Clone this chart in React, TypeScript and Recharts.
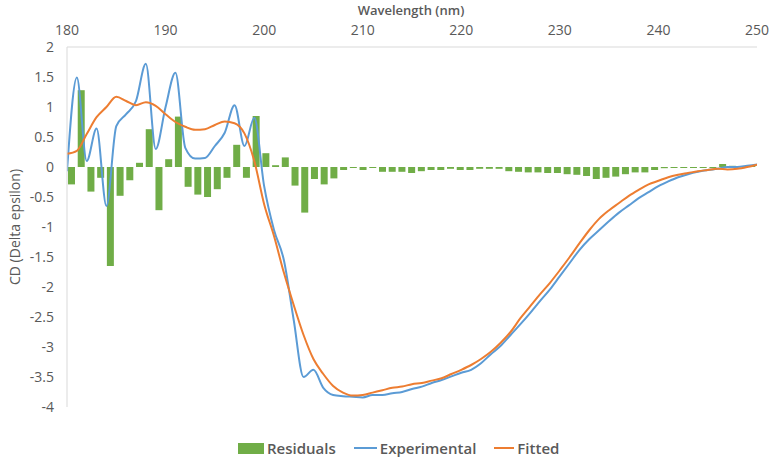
import React from 'react';
import { ComposedChart, Bar, Line, XAxis, YAxis, Legend } from 'recharts';

const wavelengths = [
  180, 181, 182, 183, 184, 185, 186, 187, 188, 189,
  190, 191, 192, 193, 194, 195, 196, 197, 198, 199,
  200, 201, 202, 203, 204, 205, 206, 207, 208, 209,
  210, 211, 212, 213, 214, 215, 216, 217, 218, 219,
  220, 221, 222, 223, 224, 225, 226, 227, 228, 229,
  230, 231, 232, 233, 234, 235, 236, 237, 238, 239,
  240, 241, 242, 243, 244, 245, 246, 247, 248, 249,
  250,
];

const residuals = [
  -0.29, 1.28, -0.41, -0.18, -1.65, -0.48, -0.22, 0.07, 0.63, -0.72,
  0.13, 0.84, -0.33, -0.46, -0.5, -0.37, -0.18, 0.37, -0.18, 0.85,
  0.23, 0.03, 0.16, -0.31, -0.76, -0.2, -0.29, -0.19, -0.05, -0.01,
  -0.05, -0.01, -0.08, -0.08, -0.08, -0.1, -0.07, -0.05, -0.05, -0.03,
  -0.05, -0.05, -0.03, -0.03, -0.03, -0.07, -0.08, -0.09, -0.09, -0.1,
  -0.1, -0.12, -0.13, -0.15, -0.2, -0.18, -0.16, -0.12, -0.09, -0.09,
  -0.05, -0.02, -0.01, -0.01, -0.01, -0.01, -0.01, 0.05, 0.02, 0.01,
  0.03,
];

const experimental = [
  -0.07, 1.49, 0.1, 0.64, -0.65, 0.68, 0.88, 1.1, 1.72, 0.3,
  1.0, 1.57, 0.32, 0.14, 0.15, 0.35, 0.57, 1.03, 0.35, 0.82,
  -0.32, -1.05, -1.55, -2.55, -3.5, -3.38, -3.68, -3.8, -3.82, -3.83,
  -3.84, -3.8, -3.8, -3.77, -3.75, -3.7, -3.66, -3.6, -3.55, -3.49,
  -3.43, -3.38, -3.27, -3.12, -2.98, -2.8, -2.62, -2.43, -2.23, -2.04,
  -1.82, -1.6, -1.38, -1.2, -1.05, -0.9, -0.76, -0.64, -0.52, -0.42,
  -0.32, -0.24, -0.17, -0.12, -0.08, -0.05, -0.03, 0.0, 0.0, 0.02,
  0.04,
];

const fitted = [
  0.22, 0.27, 0.55, 0.83, 1.0, 1.17, 1.1, 1.03, 1.08, 1.02,
  0.88, 0.75, 0.67, 0.62, 0.63, 0.7, 0.76, 0.73, 0.56, 0.1,
  -0.62, -1.15, -1.76, -2.3, -2.8, -3.2, -3.45, -3.65, -3.76, -3.81,
  -3.8, -3.76, -3.72, -3.68, -3.66, -3.62, -3.6, -3.56, -3.52, -3.45,
  -3.38, -3.3, -3.2, -3.08, -2.93, -2.75, -2.52, -2.32, -2.12, -1.93,
  -1.72, -1.5, -1.27, -1.05, -0.86, -0.72, -0.6, -0.48, -0.38, -0.29,
  -0.23, -0.17, -0.13, -0.1, -0.07, -0.05, -0.03, -0.04, -0.03, 0.0,
  0.04,
];

const xTicks = [180, 190, 200, 210, 220, 230, 240, 250];
const yTicks = [-4, -3.5, -3, -2.5, -2, -1.5, -1, -0.5, 0, 0.5, 1, 1.5, 2];

const data = wavelengths.map((wl, i) => ({
  wl,
  residual: residuals[i],
  experimental: experimental[i],
  fitted: fitted[i],
}));

const FONT = '"Open Sans", "Noto Sans", sans-serif';
const GREY = '#595959';

const renderLegend = () => (
  <div
    style={{
      display: 'flex',
      alignItems: 'center',
      paddingLeft: 238,
      fontFamily: FONT,
      fontSize: 15,
      fontWeight: 600,
      color: GREY,
      height: 20,
    }}
  >
    <span style={{ display: 'inline-block', width: 26, height: 11, background: '#70AD47', marginRight: 3 }} />
    <span style={{ marginRight: 18 }}>Residuals</span>
    <span style={{ display: 'inline-block', width: 23, height: 2, background: '#5B9BD5', marginRight: 3 }} />
    <span style={{ marginRight: 18 }}>Experimental</span>
    <span style={{ display: 'inline-block', width: 20, height: 2, background: '#ED7D31', marginRight: 3 }} />
    <span>Fitted</span>
  </div>
);

export default function App() {
  return (
    <div style={{ position: 'absolute', left: 0, top: 0, width: 775, height: 465, background: '#fff' }}>
      <ComposedChart
        width={775}
        height={465}
        data={data}
        margin={{ top: 17, right: 18, bottom: 28, left: 0 }}
      >
        <XAxis xAxisId="cat" dataKey="wl" type="category" hide />
        <XAxis
          xAxisId="num"
          dataKey="wl"
          type="number"
          domain={[180, 250]}
          ticks={xTicks}
          orientation="top"
          height={30}
          tickLine={false}
          axisLine={{ stroke: '#d9d9d9' }}
          tick={{ fill: GREY, fontSize: 14, fontFamily: FONT }}
          tickMargin={6}
          allowDataOverflow
          label={{
            content: () => (
              <text x={411} y={15} textAnchor="middle" fill={GREY} fontSize={13} fontFamily={FONT} fontWeight={600}>
                Wavelength (nm)
              </text>
            ),
          }}
        />
        <YAxis
          type="number"
          domain={[-4, 2]}
          ticks={yTicks}
          width={67}
          tickLine={false}
          axisLine={{ stroke: '#d9d9d9' }}
          tick={{ fill: GREY, fontSize: 14, fontFamily: FONT }}
          tickMargin={7}
          allowDataOverflow
          label={{
            content: () => (
              <text
                x={20}
                y={227}
                transform="rotate(-90, 20, 227)"
                textAnchor="middle"
                fill={GREY}
                fontSize={14}
                fontFamily={FONT}
              >
                CD (Delta epsilon)
              </text>
            ),
          }}
        />
        <Legend
          verticalAlign="bottom"
          height={30}
          content={renderLegend}
          wrapperStyle={{ left: 0, width: 775, top: 438, bottom: 'auto' }}
        />
        <Bar
          xAxisId="cat"
          dataKey="residual"
          name="Residuals"
          fill="#70AD47"
          barSize={7}
          minPointSize={1}
          isAnimationActive={false}
        />
        <Line
          xAxisId="num"
          dataKey="experimental"
          name="Experimental"
          type="monotone"
          stroke="#5B9BD5"
          strokeWidth={2}
          dot={false}
          isAnimationActive={false}
        />
        <Line
          xAxisId="num"
          dataKey="fitted"
          name="Fitted"
          type="monotone"
          stroke="#ED7D31"
          strokeWidth={2}
          dot={false}
          isAnimationActive={false}
        />
      </ComposedChart>
    </div>
  );
}
